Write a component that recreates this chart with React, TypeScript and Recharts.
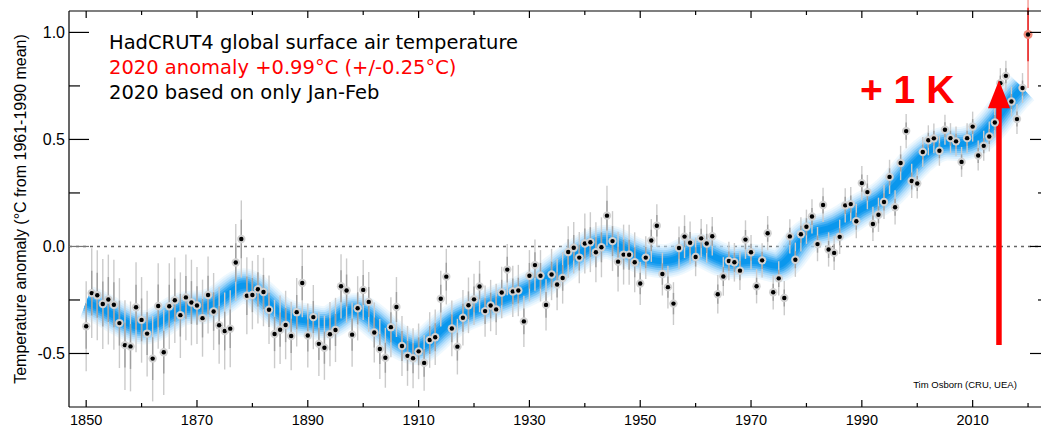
import React from "react"
import {
  ComposedChart,
  Line,
  Scatter,
  ErrorBar,
  XAxis,
  YAxis,
  ReferenceLine,
  ReferenceDot,
} from "recharts"

// HadCRUT4 annual global means, 1850-2019 (°C vs 1961-1990)
const firstYear = 1850
const anomalies = [
  -0.373, -0.218, -0.228, -0.269, -0.248, -0.272, -0.358, -0.461, -0.467, -0.284,
  -0.343, -0.407, -0.524, -0.278, -0.494, -0.279, -0.251, -0.321, -0.238, -0.262,
  -0.276, -0.335, -0.227, -0.304, -0.368, -0.395, -0.384, -0.075, 0.035, -0.23,
  -0.227, -0.2, -0.213, -0.296, -0.409, -0.389, -0.367, -0.418, -0.307, -0.171,
  -0.416, -0.33, -0.455, -0.473, -0.41, -0.39, -0.186, -0.206, -0.412, -0.289,
  -0.203, -0.259, -0.402, -0.479, -0.52, -0.377, -0.283, -0.465, -0.511, -0.522,
  -0.49, -0.544, -0.437, -0.424, -0.244, -0.141, -0.383, -0.468, -0.333, -0.275,
  -0.247, -0.187, -0.302, -0.276, -0.294, -0.215, -0.108, -0.21, -0.206, -0.35,
  -0.137, -0.087, -0.137, -0.273, -0.131, -0.178, -0.147, -0.026, -0.006, -0.052,
  0.014, 0.02, -0.027, -0.004, 0.144, 0.025, -0.071, -0.038, -0.039, -0.074,
  -0.173, -0.052, 0.028, 0.097, -0.129, -0.19, -0.267, -0.007, 0.046, 0.017,
  -0.049, 0.038, 0.014, 0.048, -0.223, -0.14, -0.068, -0.074, -0.113, 0.032,
  -0.027, -0.186, -0.065, 0.062, -0.214, -0.149, -0.241, 0.047, -0.062, 0.057,
  0.092, 0.14, 0.011, 0.194, -0.014, -0.03, 0.045, 0.192, 0.198, 0.118,
  0.296, 0.254, 0.105, 0.148, 0.208, 0.325, 0.183, 0.39, 0.539, 0.306,
  0.294, 0.441, 0.496, 0.505, 0.447, 0.545, 0.506, 0.491, 0.395, 0.506,
  0.56, 0.425, 0.47, 0.514, 0.579, 0.763, 0.797, 0.677, 0.595, 0.74,
]
// half-width of the 95% range, one value per decade (1850s .. 2010s)
const uncertaintyByDecade = [
  0.21, 0.2, 0.18, 0.16, 0.15, 0.14, 0.13, 0.12, 0.12, 0.14, 0.1, 0.09, 0.08, 0.08,
  0.08, 0.07, 0.07,
]

const latestYear = 2020
const latestValue = 0.99
const latestUncertainty = 0.25

// smoothed curve
const smoothYears = [
  1850, 1853, 1856, 1859, 1862, 1865, 1868, 1871, 1874, 1877, 1879, 1882, 1885, 1888,
  1891, 1894, 1897, 1900, 1903, 1906, 1909, 1911, 1914, 1917, 1920, 1923, 1926, 1929,
  1932, 1935, 1938, 1941, 1944, 1947, 1950, 1953, 1956, 1959, 1961, 1964, 1967, 1970,
  1973, 1975, 1977, 1979, 1981, 1984, 1987, 1990, 1993, 1996, 1999, 2002, 2005, 2008,
  2011, 2014, 2017, 2019,
]
const smoothValues = [
  -0.26, -0.29, -0.34, -0.38, -0.38, -0.32, -0.28, -0.29, -0.26, -0.19, -0.17, -0.24,
  -0.32, -0.34, -0.35, -0.37, -0.29, -0.3, -0.37, -0.44, -0.48, -0.47, -0.39, -0.33,
  -0.3, -0.27, -0.24, -0.21, -0.17, -0.11, -0.05, 0.0, 0.035, -0.01, -0.05, -0.07,
  -0.07, -0.02, -0.01, -0.06, -0.08, -0.06, -0.08, -0.1, -0.05, 0.03, 0.07, 0.08,
  0.12, 0.18, 0.21, 0.28, 0.38, 0.45, 0.49, 0.47, 0.5, 0.58, 0.69, 0.74,
]

const xTicks = [
  1850, 1860, 1870, 1880, 1890, 1900, 1910, 1920, 1930, 1940, 1950, 1960, 1970, 1980,
  1990, 2000, 2010, 2020,
]
const yTicks = [-0.5, -0.25, 0, 0.25, 0.5, 0.75, 1.0]

// the "+1 K" arrow
const arrowYear = 2014.75
const arrowFrom = -0.46
const arrowTo = 0.777

const points = anomalies.map((v, i) => {
  const err = uncertaintyByDecade[Math.floor(i / 10)]
  return { x: firstYear + i, y: v, err, errIn: err / 2 }
})
const latest = [
  { x: latestYear, y: latestValue, err: latestUncertainty, errIn: latestUncertainty / 2 },
]
const smooth = smoothYears.map((x, i) => ({ x, v: smoothValues[i] }))

const X_DOMAIN: [number, number] = [1846.9, 2023.6]
const Y_DOMAIN: [number, number] = [-0.75, 1.1]
const FONT = "'Liberation Sans', Arial, Helvetica, sans-serif"

const BottomTick = (props: any) => {
  const { x, y, payload } = props
  const major = (payload.value - 1850) % 20 === 0
  const base = y - 8
  return (
    <g>
      <line x1={x} x2={x} y1={base} y2={base - (major ? 7 : 4)} stroke="#000" strokeWidth={1.2} />
      {major && (
        <text x={x} y={y} dy="0.71em" textAnchor="middle" fontSize={14.5} fontFamily={FONT} fill="#000">
          {payload.value}
        </text>
      )}
    </g>
  )
}

const TopTick = (props: any) => {
  const { x, y, payload } = props
  const major = (payload.value - 1850) % 20 === 0
  return <line x1={x} x2={x} y1={y} y2={y + (major ? 7 : 4)} stroke="#000" strokeWidth={1.2} />
}

const LeftTick = (props: any) => {
  const { x, y, payload } = props
  const major = Math.abs(payload.value * 2 - Math.round(payload.value * 2)) < 1e-6
  const base = x + 4
  return (
    <g>
      <line
        x1={base}
        x2={base + (major ? 20 : 11)}
        y1={y}
        y2={y}
        stroke={payload.value === 0 ? "#777" : "#000"}
        strokeWidth={1.2}
      />
      {major && (
        <text x={x} y={y} dy="0.36em" textAnchor="end" fontSize={16} fontFamily={FONT} fill="#000">
          {payload.value.toFixed(1)}
        </text>
      )}
    </g>
  )
}

const RightTick = (props: any) => {
  const { x, y, payload } = props
  const major = Math.abs(payload.value * 2 - Math.round(payload.value * 2)) < 1e-6
  return <line x1={x} x2={x - (major ? 18 : 10)} y1={y} y2={y} stroke="#000" strokeWidth={1.2} />
}

const YTitle = (props: any) => {
  const vb = props.viewBox
  const cx = vb.x + 26
  const cy = vb.y + vb.height / 2
  return (
    <text
      x={cx}
      y={cy}
      transform={`rotate(-90, ${cx}, ${cy})`}
      textAnchor="middle"
      fontSize={16}
      fontFamily={FONT}
      fill="#000"
    >
      Temperature anomaly (°C from 1961-1990 mean)
    </text>
  )
}

const Dot = (props: any) => {
  const { cx, cy } = props
  return (
    <g>
      <circle cx={cx} cy={cy} r={4.2} fill="#d2d2d2" />
      <circle cx={cx} cy={cy} r={2.2} fill="#000" />
    </g>
  )
}

const LatestDot = (props: any) => {
  const { cx, cy } = props
  return (
    <g>
      <circle cx={cx} cy={cy} r={4.5} fill="#f08a7a" />
      <circle cx={cx} cy={cy} r={2.2} fill="#000" />
    </g>
  )
}

const ArrowHead = (props: any) => {
  const { cx, cy } = props
  return <polygon points={`${cx},${cy} ${cx - 11},${cy + 28} ${cx + 11},${cy + 28}`} fill="#ff0000" />
}

// soft blue band: many thin-opacity strokes stacked, narrowest on top
const bandLayers = [
  { w: 34, c: "#cfeafc", o: 0.35 },
  { w: 30, c: "#b8e0fb", o: 0.35 },
  { w: 26, c: "#9dd4f9", o: 0.4 },
  { w: 22, c: "#7cc6f7", o: 0.45 },
  { w: 18, c: "#56b6f4", o: 0.55 },
  { w: 14, c: "#33a8f1", o: 0.65 },
  { w: 10, c: "#1a9def", o: 0.8 },
  { w: 6, c: "#0896ec", o: 0.9 },
]

export default function App() {
  return (
    <div style={{ position: "relative", width: 1050, height: 429 }}>
      <style>{"body{margin:0;overflow:hidden;background:#fff}"}</style>
      <ComposedChart width={1050} height={429} margin={{ top: 0, right: 0, bottom: 0, left: 0 }}>
        <XAxis
          dataKey="x"
          type="number"
          domain={X_DOMAIN}
          allowDataOverflow
          ticks={xTicks}
          interval={0}
          height={22}
          tickSize={0}
          tickMargin={8}
          tick={<BottomTick />}
          axisLine={{ stroke: "#000", strokeWidth: 1.2 }}
        />
        <XAxis
          xAxisId="top"
          orientation="top"
          dataKey="x"
          type="number"
          domain={X_DOMAIN}
          allowDataOverflow
          ticks={xTicks}
          interval={0}
          height={11}
          tickSize={0}
          tickMargin={0}
          tick={<TopTick />}
          axisLine={{ stroke: "#000", strokeWidth: 1.2 }}
        />
        <YAxis
          type="number"
          domain={Y_DOMAIN}
          allowDataOverflow
          ticks={yTicks}
          interval={0}
          width={69}
          tickSize={0}
          tickMargin={4}
          tick={<LeftTick />}
          axisLine={{ stroke: "#000", strokeWidth: 1.2 }}
          label={<YTitle />}
        />
        <YAxis
          yAxisId="right"
          orientation="right"
          type="number"
          domain={Y_DOMAIN}
          allowDataOverflow
          ticks={yTicks}
          interval={0}
          width={2}
          tickSize={0}
          tickMargin={0}
          tick={<RightTick />}
          axisLine={{ stroke: "#000", strokeWidth: 1.2 }}
        />
        <ReferenceLine y={0} stroke="#666" strokeWidth={1.5} strokeDasharray="3 4" />
        {bandLayers.map((b, i) => (
          <Line
            key={i}
            data={smooth}
            dataKey="v"
            type="basis"
            stroke={b.c}
            strokeOpacity={b.o}
            strokeWidth={b.w}
            strokeLinecap="butt"
            dot={false}
            activeDot={false}
            isAnimationActive={false}
          />
        ))}
        <Scatter data={points} dataKey="y" shape={<Dot />} isAnimationActive={false}>
          <ErrorBar dataKey="err" direction="y" width={0} stroke="#cbcbcb" strokeWidth={1.4} />
          <ErrorBar dataKey="errIn" direction="y" width={0} stroke="#a0a0a0" strokeWidth={1.4} />
        </Scatter>
        <Scatter data={latest} dataKey="y" shape={<LatestDot />} isAnimationActive={false}>
          <ErrorBar dataKey="err" direction="y" width={0} stroke="#f5a09a" strokeWidth={1.5} />
          <ErrorBar dataKey="errIn" direction="y" width={0} stroke="#e62020" strokeWidth={1.5} />
        </Scatter>
        <ReferenceLine
          segment={[
            { x: arrowYear, y: arrowFrom },
            { x: arrowYear, y: arrowTo - 0.08 },
          ]}
          stroke="#ff0000"
          strokeWidth={5.5}
        />
        <ReferenceDot x={arrowYear} y={arrowTo} shape={<ArrowHead />} />
      </ComposedChart>
      <svg
        width={1050}
        height={429}
        style={{ position: "absolute", left: 0, top: 0, pointerEvents: "none" }}
      >
        <g fontFamily="'DejaVu Sans', sans-serif" fontSize={19.5}>
          <text x={109} y={49} fill="#000">
            HadCRUT4 global surface air temperature
          </text>
          <text x={109} y={74} fill="#ff0000">
            2020 anomaly +0.99°C (+/-0.25°C)
          </text>
          <text x={109} y={99} fill="#000">
            2020 based on only Jan-Feb
          </text>
        </g>
        <text x={860} y={103} fill="#ff0000" fontFamily={FONT} fontWeight="bold" fontSize={39}>
          + 1 K
        </text>
        <text x={965} y={388} textAnchor="middle" fill="#000" fontFamily={FONT} fontSize={9.5}>
          Tim Osborn (CRU, UEA)
        </text>
      </svg>
    </div>
  )
}
